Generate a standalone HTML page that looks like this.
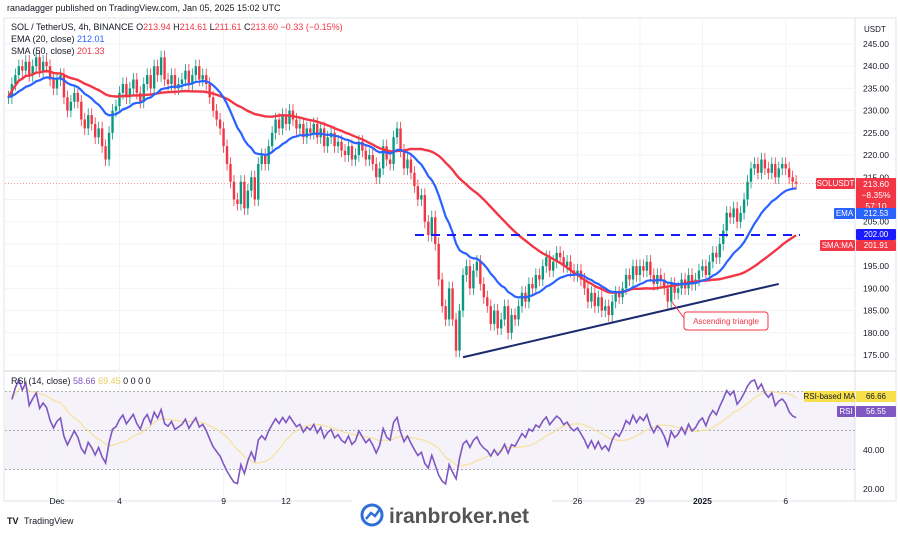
<!DOCTYPE html>
<html><head><meta charset="utf-8"><style>
body{margin:0;width:900px;height:533px;background:#fff;overflow:hidden;font-family:"Liberation Sans",sans-serif}
svg text{font-family:"Liberation Sans",sans-serif}
</style></head><body>
<svg id="c" width="900" height="533" xmlns="http://www.w3.org/2000/svg">
<rect width="900" height="533" fill="#fff"/>
<text x="7" y="11" font-size="9" fill="#131722">ranadagger published on TradingView.com, Jan 05, 2025 15:02 UTC</text>
<rect x="4" y="18" width="892" height="483" fill="none" stroke="#e0e3eb"/>
<line x1="855" y1="18" x2="855" y2="501" stroke="#e0e3eb"/>
<line x1="4" y1="371" x2="896" y2="371" stroke="#d1d4dc"/>
<rect x="5" y="391.5" width="850" height="78" fill="#7e57c2" fill-opacity="0.08"/>
<g id="grid"></g>
<g id="main"></g>
<g id="rsi"></g>
<g id="axes"></g>
<g font-size="9">
<text x="11" y="30" fill="#131722">SOL / TetherUS, 4h, BINANCE <tspan fill="#131722">O</tspan><tspan fill="#f23645">213.94</tspan> H<tspan fill="#f23645">214.61</tspan> L<tspan fill="#f23645">211.61</tspan> C<tspan fill="#f23645">213.60 −0.33 (−0.15%)</tspan></text>
<text x="11" y="42" fill="#131722">EMA (20, close) <tspan fill="#2962ff">212.01</tspan></text>
<text x="11" y="54" fill="#131722">SMA (50, close) <tspan fill="#f23645">201.33</tspan></text>
<text x="11" y="384" fill="#131722">RSI (14, close) <tspan fill="#7e57c2">58.66</tspan> <tspan fill="#e8cf60">69.45</tspan> 0 0 0 0</text>
</g>
<text x="864" y="32" font-size="8" fill="#131722">USDT</text>
<g><text x="7" y="524" font-size="9" font-weight="bold" fill="#131722">TV</text><text x="24" y="524" font-size="9" fill="#131722">TradingView</text></g>
<rect x="352" y="500" width="200" height="33" fill="#fff"/>
<g><circle cx="372" cy="515" r="10" fill="none" stroke="#2f6fd6" stroke-width="3"/><path d="M366 519 L371 513 L375 516 L380 509" stroke="#2f6fd6" stroke-width="2.5" fill="none"/><text x="389" y="523" font-size="21" font-weight="bold" fill="#555" font-family="Liberation Mono">iranbroker.net</text></g>
</svg>
<script>
const closes=[233,236,
238,240,239,241,238,240, 242,239,241,240,237,235,
237,238,233,230,232,234, 232,228,226,229,227,224, 226,222,219,225,230,231,
234,236,233,235,237,234, 232,236,238,235,240,238, 242,237,236,238,235,236,
237,239,236,238,240,237, 238,236,233,230,228,226, 222,218,214,210,209,214,
208,212,215,210,218,220, 218,222,225,228,226,229, 227,230,228,226,227,224,
226,225,227,224,226,222, 224,225,222,223,221,220, 222,219,220,223,221,219,
220,218,215,217,222,219, 218,224,226,221,217,219, 216,213,210,211,205,202,
206,200,192,186,183,190, 183,176,185,193,195,190, 194,196,191,188,186,182,
185,181,183,186,180,184, 183,186,189,187,191,190, 193,192,195,197,194,196,
198,197,195,196,194,193, 194,192,190,187,189,186, 188,185,186,184,187,189,
188,190,193,192,195,193, 195,194,196,193,191,193, 192,190,187,191,189,190,
192,190,193,191,192,194, 195,193,196,198,197,200, 203,207,206,208,205,207,
210,214,217,218,216,219, 217,216,218,215,217,218, 217,215,214,213.6];
const priceTicks=[245,240,235,230,225,220,215,210,205,200,195,190,185,180,175];
const rsiTicks=[40,20];
const dateLabels=["Dec","4","9","12","26","29","2025","6"];
const dateIndex=[14,32,62,80,164,182,200,224];
const resistance=202;
const trendStart=[131,174.5], trendEnd=[222,191];

const NS="http://www.w3.org/2000/svg";
const xs=i=>57+(i-14)*3.47;
const yp=p=>44+(245-p)*4.443;
const yr=v=>489-(v-20)*1.95;
function mk(t,a,parent,txt){const e=document.createElementNS(NS,t);for(const k in a)e.setAttribute(k,a[k]);if(txt!==undefined)e.textContent=txt;document.getElementById(parent).appendChild(e);return e;}
priceTicks.forEach(p=>{mk('line',{x1:5,x2:855,y1:yp(p),y2:yp(p),stroke:'#f0f3fa'},'grid');});
dateIndex.forEach(i=>{mk('line',{x1:xs(i),x2:xs(i),y1:19,y2:500,stroke:'#f0f3fa'},'grid');});
closes.forEach((c,i)=>{
 const o=i?closes[i-1]:c; const up=c>=o; const col=up?'#089981':'#f23645';
 const hi=Math.max(o,c)+1.5, lo=Math.min(o,c)-1.5;
 const w=mk('line',{x1:xs(i),x2:xs(i),y1:yp(hi),y2:yp(lo),stroke:col,'stroke-width':0.8},'main');
 
 
 const b=mk('rect',{x:xs(i)-1.2,y:yp(Math.max(o,c)),width:2.4,height:Math.max(0.8,Math.abs(yp(o)-yp(c))),fill:col},'main');
 
 
});
let ema=[],e=closes[0],k=2/21;closes.forEach(c=>{e=c*k+e*(1-k);ema.push(e);});
let sma=closes.map((c,i)=>{const s=closes.slice(Math.max(0,i-49),i+1);return s.reduce((a,b)=>a+b,0)/s.length;});
const pts=(arr,f,off)=>arr.map((v,i)=>xs(i+(off||0)).toFixed(1)+','+f(v).toFixed(1)).join(' ');
const sl=mk('polyline',{points:pts(sma,yp),fill:'none',stroke:'#f23645','stroke-width':2.4},'main');


const el=mk('polyline',{points:pts(ema,yp),fill:'none',stroke:'#2962ff','stroke-width':2.2},'main');


const rl=mk('line',{x1:415,x2:800,y1:yp(resistance),y2:yp(resistance),stroke:'#1a1aff','stroke-width':2,'stroke-dasharray':'9,7'},'main');


const tl=mk('line',{x1:xs(trendStart[0]),y1:yp(trendStart[1]),x2:xs(trendEnd[0]),y2:yp(trendEnd[1]),stroke:'#1c2a6e','stroke-width':2},'main');


mk('line',{x1:672,y1:302,x2:684,y2:318,stroke:'#f23645','stroke-width':1},'main');
const ab=mk('rect',{x:684,y:312,width:84,height:18,rx:3,fill:'#fff',stroke:'#f23645'},'main');


mk('text',{x:726,y:324,'font-size':8,'text-anchor':'middle',fill:'#f23645'},'main','Ascending triangle');
const lastY=yp(closes[closes.length-1]);
mk('line',{x1:5,x2:855,y1:lastY,y2:lastY,stroke:'#f23645','stroke-width':0.6,'stroke-dasharray':'1,2'},'main');
// RSI with growing smoothing window from start
let rsi=[],ag=0.8,al=0.8;
for(let i=1;i<closes.length;i++){const d=closes[i]-closes[i-1],g=Math.max(d,0),l=Math.max(-d,0);
 const n=Math.min(i+4,14);ag=(ag*(n-1)+g)/n;al=(al*(n-1)+l)/n;
 rsi.push(100-100/(1+ag/(al||1e-6)));}
const rOff=1;
const rma=rsi.map((v,i)=>{const s=rsi.slice(Math.max(0,i-13),i+1);return s.reduce((a,b)=>a+b,0)/s.length;});
[70,50,30].forEach(v=>mk('line',{x1:5,x2:855,y1:yr(v),y2:yr(v),stroke:'#9598a1','stroke-dasharray':'2,2','stroke-width':0.8},'rsi'));
const rm=mk('polyline',{points:pts(rma,yr,rOff),fill:'none',stroke:'#f5e29a','stroke-width':1.2},'rsi');


const rl2=mk('polyline',{points:pts(rsi,yr,rOff),fill:'none',stroke:'#7e57c2','stroke-width':1.6},'rsi');


priceTicks.forEach(p=>{const t=mk('text',{x:863,y:yp(p)+3,'font-size':8.5,fill:'#131722'},'axes',p.toFixed(2));});
rsiTicks.forEach(v=>{const t=mk('text',{x:863,y:yr(v)+3,'font-size':8.5,fill:'#131722'},'axes',v.toFixed(2));});
dateLabels.forEach((d,j)=>{const t=mk('text',{x:xs(dateIndex[j]),y:504,'font-size':8.5,'text-anchor':'middle',fill:'#131722','font-weight':d==='2025'?'bold':'normal'},'axes',d);});
function tag(x,y,w,h,fill,txt,col,name){const r=mk('rect',{x:x,y:y,width:w,height:h,fill:fill,rx:1},'axes');mk('text',{x:x+w/2,y:y+h-3,'font-size':8,'text-anchor':'middle',fill:col},'axes',txt);}
tag(816,178,39,11,'#f23645','SOLUSDT','#fff','symbol-tag');
const pr=mk('rect',{x:856,y:178,width:40,height:35,fill:'#f23645'},'axes');
mk('text',{x:876,y:187,'font-size':8.5,'text-anchor':'middle',fill:'#fff'},'axes',closes[closes.length-1].toFixed(2));
mk('text',{x:876,y:198,'font-size':8.5,'text-anchor':'middle',fill:'#fff'},'axes','−8.35%');
mk('text',{x:876,y:209,'font-size':8.5,'text-anchor':'middle',fill:'#fff'},'axes','57:10');
tag(834,208,21,11,'#2962ff','EMA','#fff','ema-tag');
tag(856,208,40,11,'#2962ff',ema[ema.length-1].toFixed(2),'#fff','ema-value-tag');
tag(856,229,40,11,'#1a1aff',resistance.toFixed(2),'#fff','resistance-tag');
tag(820,240,35,11,'#f23645','SMA:MA','#fff','sma-tag');
tag(856,240,40,11,'#f23645',sma[sma.length-1].toFixed(2),'#fff','sma-value-tag');
tag(804,391,51,11,'#f7e04b','RSI-based MA','#131722','rsi-ma-tag');
tag(856,391,40,11,'#f7e04b',rma[rma.length-1].toFixed(2),'#131722','rsi-ma-value-tag');
tag(837,406,18,11,'#7e57c2','RSI','#fff','rsi-tag');
tag(856,406,40,11,'#7e57c2',rsi[rsi.length-1].toFixed(2),'#fff','rsi-value-tag');
</script>
</body></html>
